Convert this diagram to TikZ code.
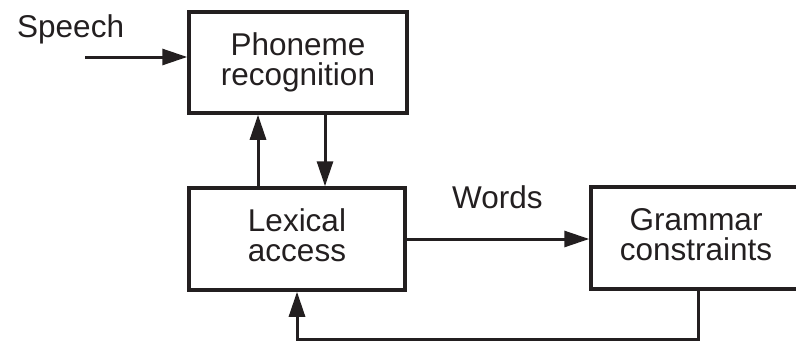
\documentclass[tikz,border=0pt]{standalone}
\usepackage{fontspec}
\setmainfont{Liberation Sans}
\usetikzlibrary{arrows.meta}
\definecolor{ink}{HTML}{231F20}
\begin{document}
\begin{tikzpicture}[x=1pt,y=-1pt,
  every node/.style={font=\fontsize{31.5pt}{30pt}\selectfont, text=ink},
  blk/.style={draw=ink, line width=3.5pt, inner sep=0pt, align=center,
    text depth=7pt},
  arr/.style={draw=ink, line width=3pt, -{Triangle[length=25pt,width=16pt]}},
  lnk/.style={draw=ink, line width=3pt}]
\useasboundingbox (0,0) rectangle (796,343);
\node[blk, minimum width=218pt, minimum height=101pt] (ph) at (298,62.5) {Phoneme\\recognition};
\node[blk, minimum width=216pt, minimum height=102pt] (lx) at (297,239) {Lexical\\access};
\node[blk, minimum width=210pt, minimum height=102pt] (gr) at (696,238) {Grammar\\constraints};
\node[anchor=base west, inner sep=0pt] (sp) at (17,37) {Speech};
\node[anchor=base west, inner sep=0pt] (wd) at (452,208) {Words};
\coordinate (spin) at (85,57);
\coordinate (ux) at (258,0);
\coordinate (dx) at (325,0);
\coordinate (fb1) at (698,339);
\coordinate (fb2) at (297,339);
\draw[arr] (spin) -- (spin -| ph.west);
\draw[arr] (ux |- lx.north) -- (ux |- ph.south);
\draw[arr] (dx |- ph.south) -- (dx |- lx.north);
\draw[arr] (lx.east) -- (lx.east -| gr.west);
\draw[arr] (fb1 |- gr.south) -- (fb1) -- (fb2) -- (fb2 |- lx.south);
\end{tikzpicture}
\end{document}
